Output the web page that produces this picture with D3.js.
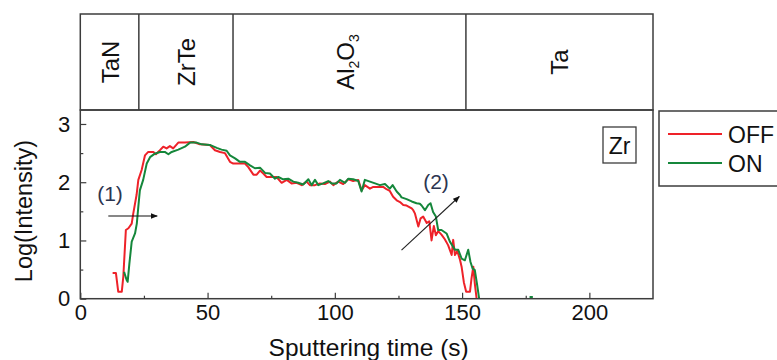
<!DOCTYPE html>
<html><head><meta charset="utf-8">
<script src="https://cdn.jsdelivr.net/npm/d3@7"></script>
<style>
body{margin:0;background:#fff;}
svg{display:block;font-family:"Liberation Sans",Arial,sans-serif;}
</style></head>
<body><svg id="c" width="777" height="360"></svg>
<script>
// ---- data ----
const offT = [12.7,14.0,14.9,16.3,16.9,17.9,18.9,20.2,20.8,22.1,22.8,24.1,25.4,26.7,28.7,29.7,31.3,32.6,33.9,35.2,36.5,38.5,41.1,44.4,47.0,50.9,52.9,54.9,56.8,58.8,60.1,62.7,64.7,66.0,68.0,69.3,70.6,71.9,73.2,75.2,77.1,79.1,81.1,83.0,85.0,87.0,88.9,90.2,92.2,94.1,96.1,98.1,99.4,101.3,103.3,105.3,107.2,109.2,110.5,111.8,113.8,115.1,117.0,119.0,120.3,121.6,122.9,124.3,125.6,126.9,128.2,130.2,130.8,131.5,132.8,133.7,134.7,136.1,137.1,138.0,138.9,139.7,140.6,141.9,143.2,144.5,145.9,146.5,147.2,148.1,149.1,149.8,150.7,151.6,153.1,153.7,154.4,155.0,155.7];
const offV = [0.44,0.44,0.12,0.12,0.38,1.18,1.21,1.29,1.46,1.78,2.04,2.21,2.46,2.52,2.52,2.48,2.55,2.61,2.58,2.62,2.58,2.68,2.68,2.69,2.65,2.64,2.55,2.52,2.50,2.35,2.32,2.32,2.32,2.26,2.13,2.13,2.20,2.15,2.09,2.09,2.09,1.99,2.04,1.98,1.99,1.95,2.01,1.95,1.95,1.98,1.97,2.01,1.95,2.01,1.97,2.05,2.02,2.04,1.86,1.95,1.89,1.92,1.92,1.92,1.88,1.85,1.75,1.69,1.66,1.61,1.60,1.55,1.52,1.46,1.24,1.38,1.41,1.30,1.33,1.00,1.25,1.09,1.16,1.10,1.02,0.92,0.75,1.01,0.75,0.82,0.68,0.55,0.28,0.12,0.12,0.35,0.55,0.26,0.0];
const onT = [17.2,18.2,18.6,19.3,20.2,21.5,22.2,22.8,23.4,24.7,26.1,27.4,29.3,31.3,33.2,34.6,35.9,38.5,41.1,43.1,45.7,47.7,50.9,53.6,55.5,57.5,58.8,60.8,62.7,64.7,66.7,68.6,70.6,72.6,74.5,76.5,77.8,79.7,81.7,83.7,85.6,87.6,89.6,90.9,92.2,93.5,95.4,97.4,98.7,100.7,102.0,104.0,105.3,107.2,109.2,110.5,111.8,113.8,115.8,117.7,119.7,121.6,122.7,124.3,125.6,126.2,128.2,130.2,132.1,133.4,134.1,135.4,136.7,137.6,138.6,139.7,140.6,141.9,143.9,145.2,147.2,148.5,149.8,151.1,152.4,153.3,154.1,155.0,155.9,156.7,166.0,176.5,177.8];
const onV = [0.46,0.32,0.29,0.61,0.98,1.12,1.29,1.58,1.86,2.04,2.32,2.43,2.49,2.52,2.52,2.48,2.52,2.56,2.61,2.68,2.68,2.65,2.64,2.59,2.56,2.54,2.46,2.41,2.35,2.35,2.29,2.24,2.25,2.16,2.15,2.06,2.09,2.05,2.06,2.01,1.99,1.96,2.05,1.95,2.04,1.95,1.98,2.02,1.98,1.98,2.04,1.99,2.06,2.05,2.02,1.84,2.04,2.01,1.98,1.95,1.97,1.89,1.95,1.84,1.78,1.74,1.71,1.67,1.64,1.63,1.60,1.52,1.61,1.64,1.49,1.41,1.18,1.18,1.12,0.98,0.84,0.84,0.69,0.66,0.84,0.63,0.52,0.49,0.24,0.0,null,0.03,0.03];
const layerNames = ["TaN","ZrTe","Al2O3","Ta"];
const layerEdges = [0,23,60,151.5,225];
const xTicks = [0,50,100,150,200];
const xMinor = [25,75,125,175];
const yTicks = [0,1,2,3];
const yMinor = [0.5,1.5,2.5];
const seriesNames = ["OFF","ON"];
const seriesColors = ["#ee2229","#15873b"];

// ---- chart ----
const svg = d3.select("#c");
const L=80.3, R=653, T=110, B=298.7, TOP=14;
const x = d3.scaleLinear().domain([0,225]).range([L,R]);
const y = d3.scaleLinear().domain([0,3.24]).range([B,T]);
const frame = "#3c3c3c";

svg.append("defs").append("clipPath").attr("id","clip")
  .append("rect").attr("x",L).attr("y",T).attr("width",R-L).attr("height",B-T);
const mk = svg.select("defs").append("marker").attr("id","ah").attr("viewBox","0 0 10 10")
  .attr("refX",9).attr("refY",5).attr("markerWidth",7).attr("markerHeight",7).attr("orient","auto")
  .attr("markerUnits","userSpaceOnUse");
mk.append("path").attr("d","M0,1 L10,5 L0,9 Z").attr("fill","#111");

// top layer panel
svg.append("rect").attr("x",L).attr("y",TOP).attr("width",R-L).attr("height",T-TOP)
  .attr("fill","none").attr("stroke",frame).attr("stroke-width",1.5);
layerEdges.slice(1,-1).forEach(e=>{
  svg.append("line").attr("x1",x(e)).attr("x2",x(e)).attr("y1",TOP).attr("y2",T)
    .attr("stroke",frame).attr("stroke-width",1.5);
});
const labelShift = [0,0,-4,0];
layerNames.forEach((n,i)=>{
  const cx = (x(layerEdges[i])+x(layerEdges[i+1]))/2 + labelShift[i];
  const t = svg.append("text").attr("transform",`translate(${cx+9},${(TOP+T)/2}) rotate(-90)`)
    .attr("text-anchor","middle").attr("font-size",24).attr("fill","#111");
  if(n==="Al2O3"){
    t.append("tspan").text("Al");
    t.append("tspan").text("2").attr("font-size",14).attr("dy",5);
    t.append("tspan").text("O").attr("dy",-5);
    t.append("tspan").text("3").attr("font-size",14).attr("dy",5);
  } else t.text(n);
});

// axes
const gx = svg.append("g").attr("transform",`translate(0,${B})`)
  .call(d3.axisBottom(x).tickValues(xTicks).tickSizeInner(-6).tickSizeOuter(0).tickPadding(6).tickFormat(d3.format("d")));
const gxm = svg.append("g").attr("transform",`translate(0,${B})`)
  .call(d3.axisBottom(x).tickValues(xMinor).tickSizeInner(-3).tickSizeOuter(0).tickFormat(""));
const gy = svg.append("g").attr("transform",`translate(${L},0)`)
  .call(d3.axisLeft(y).tickValues(yTicks).tickSizeInner(-6).tickSizeOuter(0).tickPadding(10).tickFormat(d3.format("d")));
const gym = svg.append("g").attr("transform",`translate(${L},0)`)
  .call(d3.axisLeft(y).tickValues(yMinor).tickSizeInner(-3).tickSizeOuter(0).tickFormat(""));
[gx,gxm,gy,gym].forEach(g=>{
  g.select(".domain").remove();
  g.selectAll("line").attr("stroke",frame).attr("stroke-width",1.2);
  g.selectAll("text").attr("font-size",22).attr("fill","#111").attr("font-family","Liberation Sans, Arial, sans-serif");
});

// lines
const line = d3.line().defined(d=>d[1]!==null).x(d=>x(d[0])).y(d=>y(d[1]));
const series = [offT.map((t,i)=>[t,offV[i]]), onT.map((t,i)=>[t,onV[i]])];
const gl = svg.append("g").attr("clip-path","url(#clip)");
series.forEach((s,i)=>{
  gl.append("path").attr("d",line(s)).attr("fill","none")
    .attr("stroke",seriesColors[i]).attr("stroke-width",2).attr("stroke-linejoin","round");
});

// plot frame
svg.append("rect").attr("x",L).attr("y",T).attr("width",R-L).attr("height",B-T)
  .attr("fill","none").attr("stroke",frame).attr("stroke-width",1.5);

// axis titles
svg.append("text").attr("x",(L+R)/2+2).attr("y",356).attr("text-anchor","middle")
  .attr("font-size",24.5).attr("fill","#111").text("Sputtering time (s)");
svg.append("text").attr("transform",`translate(32,${211}) rotate(-90)`).attr("text-anchor","middle")
  .attr("font-size",23.5).attr("fill","#111").text("Log(Intensity)");

// Zr label box
svg.append("rect").attr("x",603).attr("y",127).attr("width",33).attr("height",36)
  .attr("fill","#fff").attr("stroke",frame).attr("stroke-width",1.3);
svg.append("text").attr("x",619.5).attr("y",153.5).attr("text-anchor","middle")
  .attr("font-size",23).attr("fill","#111").text("Zr");

// annotations
svg.append("text").attr("x",110).attr("y",201).attr("text-anchor","middle")
  .attr("font-size",21).attr("fill","#2c3550").text("(1)");
svg.append("line").attr("x1",x(11)).attr("y1",y(1.42)).attr("x2",x(30.2)).attr("y2",y(1.42))
  .attr("stroke","#111").attr("stroke-width",1.2).attr("marker-end","url(#ah)");
svg.append("text").attr("x",436).attr("y",189).attr("text-anchor","middle")
  .attr("font-size",21).attr("fill","#2c3550").text("(2)");
svg.append("line").attr("x1",x(126.2)).attr("y1",y(0.835)).attr("x2",x(148.9)).attr("y2",y(1.755))
  .attr("stroke","#222").attr("stroke-width",1.1).attr("marker-end","url(#ah)");

// legend
svg.append("rect").attr("x",659).attr("y",111).attr("width",130).attr("height",75)
  .attr("fill","#fff").attr("stroke",frame).attr("stroke-width",1.5);
seriesNames.forEach((n,i)=>{
  const ly = 134 + i*29;
  svg.append("line").attr("x1",668).attr("x2",722).attr("y1",ly).attr("y2",ly)
    .attr("stroke",seriesColors[i]).attr("stroke-width",2);
  svg.append("text").attr("x",728).attr("y",ly+8.5).attr("font-size",23).attr("fill","#111").text(n);
});
</script></body></html>
